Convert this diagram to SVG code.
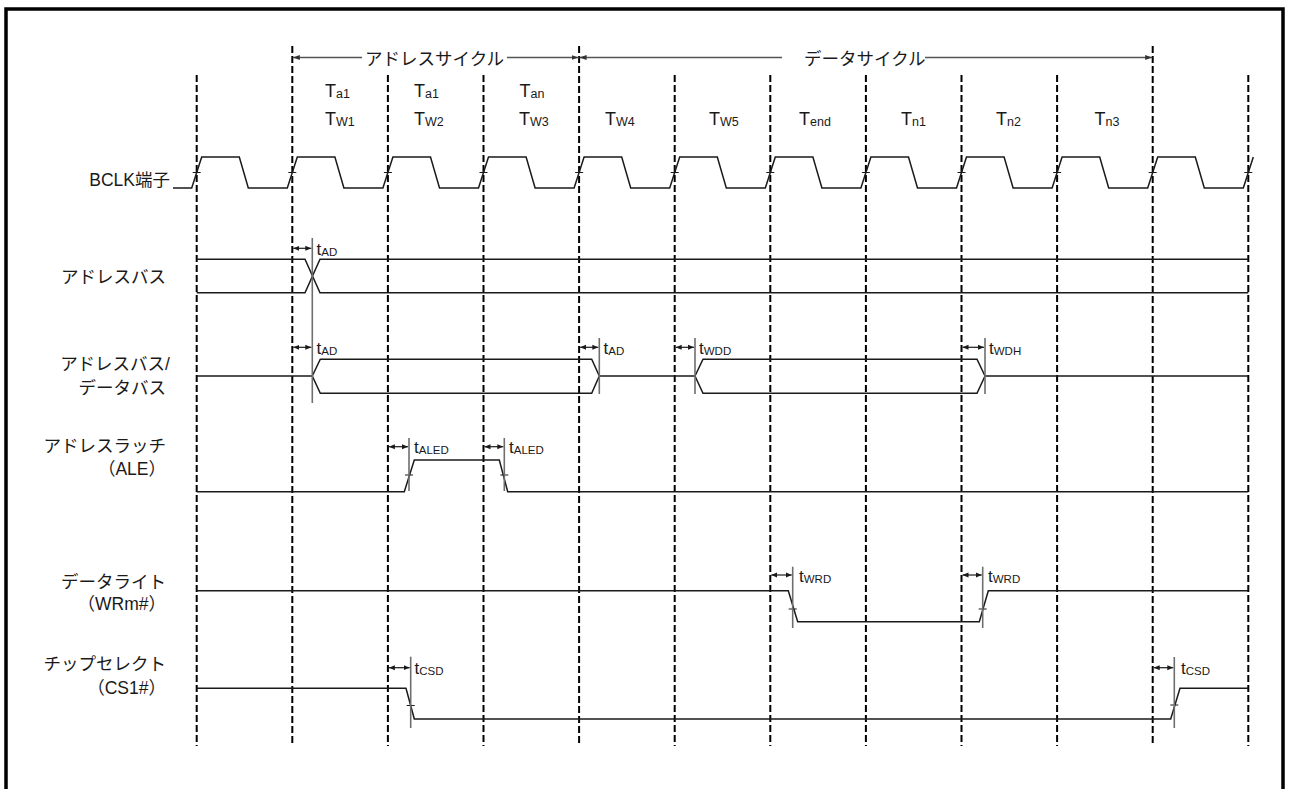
<svg xmlns="http://www.w3.org/2000/svg" width="1289" height="789" viewBox="0 0 1289 789">
<style>
.bg{fill:#fff}
.frame{fill:none;stroke:#000;stroke-width:3.5}
.grid{stroke:#000;stroke-width:2;stroke-dasharray:7,3;fill:none}
.wave{fill:none;stroke:#1a1a1a;stroke-width:1.5;stroke-linejoin:miter}
.ref{stroke:#6e6e6e;stroke-width:1.6;fill:none}
.tick{stroke:#1a1a1a;stroke-width:1.2}
.dim{stroke:#1a1a1a;stroke-width:1.2;fill:none;marker-start:url(#ah);marker-end:url(#ah)}
.cyc{stroke:#555;stroke-width:1.4;fill:none}
.lbl{font-family:'Liberation Sans','Noto Sans CJK JP',sans-serif;font-size:17.5px;fill:#1a1a1a}
.tl{font-family:'Liberation Sans',Arial,sans-serif;font-size:17px;fill:#1a1a1a}
.st{font-family:'Liberation Sans',Arial,sans-serif;font-size:18px;fill:#1a1a1a}
.sub{font-size:11.5px}
.ssub{font-size:12.5px}
</style>
<defs>
<marker id="ah" viewBox="0 0 6 6" refX="6" refY="3" markerWidth="6" markerHeight="6" markerUnits="userSpaceOnUse" orient="auto-start-reverse">
<path d="M0,0.5 L6,3 L0,5.5 z" fill="#1a1a1a"/>
</marker>
<marker id="ch" viewBox="0 0 7 6" refX="7" refY="3" markerWidth="7" markerHeight="6" markerUnits="userSpaceOnUse" orient="auto-start-reverse">
<path d="M0,0.5 L7,3 L0,5.5 z" fill="#333"/>
</marker>
</defs>
<rect class="bg" x="0" y="0" width="1289" height="789"/>
<path class="frame" d="M6,789 V9 H1283 V789"/>

<g id="grid">
<line class="grid" x1="196.7" y1="75" x2="196.7" y2="746"/>
<line class="grid" x1="292.3" y1="46" x2="292.3" y2="746"/>
<line class="grid" x1="387.9" y1="75" x2="387.9" y2="746"/>
<line class="grid" x1="483.5" y1="75" x2="483.5" y2="746"/>
<line class="grid" x1="579.1" y1="46" x2="579.1" y2="746"/>
<line class="grid" x1="674.7" y1="75" x2="674.7" y2="746"/>
<line class="grid" x1="770.3" y1="75" x2="770.3" y2="746"/>
<line class="grid" x1="865.9" y1="75" x2="865.9" y2="746"/>
<line class="grid" x1="961.5" y1="75" x2="961.5" y2="746"/>
<line class="grid" x1="1057.1" y1="75" x2="1057.1" y2="746"/>
<line class="grid" x1="1152.7" y1="46" x2="1152.7" y2="746"/>
<line class="grid" x1="1248.3" y1="75" x2="1248.3" y2="746"/>
</g>

<g id="cycles">
<line class="cyc" x1="362" y1="57.5" x2="292.8" y2="57.5" style="marker-end:url(#ch)"/>
<line class="cyc" x1="507" y1="57.5" x2="578.6" y2="57.5" style="marker-end:url(#ch)"/>
<text class="lbl" x="365" y="65">アドレスサイクル</text>
<line class="cyc" x1="782" y1="57.5" x2="579.6" y2="57.5" style="marker-end:url(#ch)"/>
<line class="cyc" x1="925" y1="57.5" x2="1152.2" y2="57.5" style="marker-end:url(#ch)"/>
<text class="lbl" x="804" y="65">データサイクル</text>
</g>

<g id="states">
<text class="st" x="325" y="97">T<tspan class="ssub" dy="1">a1</tspan></text>
<text class="st" x="414" y="97">T<tspan class="ssub" dy="1">a1</tspan></text>
<text class="st" x="519.5" y="97">T<tspan class="ssub" dy="1">an</tspan></text>
<text class="st" x="325" y="125">T<tspan class="ssub" dy="1">W1</tspan></text>
<text class="st" x="414" y="125">T<tspan class="ssub" dy="1">W2</tspan></text>
<text class="st" x="519" y="125">T<tspan class="ssub" dy="1">W3</tspan></text>
<text class="st" x="605" y="125">T<tspan class="ssub" dy="1">W4</tspan></text>
<text class="st" x="709" y="125">T<tspan class="ssub" dy="1">W5</tspan></text>
<text class="st" x="799" y="125">T<tspan class="ssub" dy="1">end</tspan></text>
<text class="st" x="901" y="125">T<tspan class="ssub" dy="1">n1</tspan></text>
<text class="st" x="996" y="125">T<tspan class="ssub" dy="1">n2</tspan></text>
<text class="st" x="1094.5" y="125">T<tspan class="ssub" dy="1">n3</tspan></text>
</g>

<g id="bclk">
<text class="lbl" x="170" y="186" text-anchor="end">BCLK端子</text>
<path class="wave" d="M173,188 H191.7 L201.7,157 H239.3 L248.3,188 H287.3 L297.3,157 H334.9 L343.9,188 H382.9 L392.9,157 H430.5 L439.5,188 H478.5 L488.5,157 H526.1 L535.1,188 H574.1 L584.1,157 H621.7 L630.7,188 H669.7 L679.7,157 H717.3 L726.3,188 H765.3 L775.3,157 H812.9 L821.9,188 H860.9 L870.9,157 H908.5 L917.5,188 H956.5 L966.5,157 H1004.1 L1013.1,188 H1052.1 L1062.1,157 H1099.7 L1108.7,188 H1147.7 L1157.7,157 H1195.3 L1204.3,188 H1243.3 L1253.3,157"/>
<path class="tick" d="M192.7,172.5 h8 M288.3,172.5 h8 M383.9,172.5 h8 M479.5,172.5 h8 M575.1,172.5 h8 M670.7,172.5 h8 M766.3,172.5 h8 M861.9,172.5 h8 M957.5,172.5 h8 M1053.1,172.5 h8 M1148.7,172.5 h8 M1244.3,172.5 h8"/>
</g>

<g id="address-bus">
<text class="lbl" x="166" y="283" text-anchor="end">アドレスバス</text>
<path class="wave" d="M196.7,259.3 H305 L320,292.7 H1248.3 M196.7,292.7 H305 L320,259.3 H1248.3"/>
</g>

<g id="ad-bus">
<text class="lbl" x="170" y="370" text-anchor="end">アドレスバス/</text>
<text class="lbl" x="166" y="394" text-anchor="end">データバス</text>
<path class="wave" d="M196.7,376 H312.3 M312.3,376 L320.3,359.3 H591.7 L599.3,376 L591.7,393.3 H320.3 Z M599.3,376 H695 M695,376 L703,359.3 H977 L985,376 L977,393.3 H703 Z M985,376 H1248.3"/>
</g>

<g id="ale">
<text class="lbl" x="166" y="452" text-anchor="end">アドレスラッチ</text>
<text class="lbl" x="166" y="475" text-anchor="end">（ALE）</text>
<path class="wave" d="M196.7,491.7 H404.3 L414.3,460 H499.3 L507.7,491.7 H1248.3"/>
<path class="tick" d="M405,475 h8 M500.3,475 h8"/>
</g>

<g id="wrm">
<text class="lbl" x="166" y="588" text-anchor="end">データライト</text>
<text class="lbl" x="166" y="610" text-anchor="end">（WRm#）</text>
<path class="wave" d="M196.7,590.7 H788.3 L797.7,621.7 H979.3 L988.3,590.7 H1248.3"/>
<path class="tick" d="M788.7,609 h8 M978.7,609 h8"/>
</g>

<g id="cs1">
<text class="lbl" x="166" y="670" text-anchor="end">チップセレクト</text>
<text class="lbl" x="166" y="694" text-anchor="end">（CS1#）</text>
<path class="wave" d="M196.7,688.3 H406 L414.3,719 H1170.7 L1180,688.3 H1248.3"/>
<path class="tick" d="M406.7,705.5 h8 M1170.3,705 h8"/>
</g>

<g id="connectors">
<line class="ref" x1="312.3" y1="238" x2="312.3" y2="403"/>
<line class="ref" x1="599.3" y1="338" x2="599.3" y2="394"/>
<line class="ref" x1="695" y1="338" x2="695" y2="394"/>
<line class="ref" x1="985" y1="338" x2="985" y2="394"/>
<line class="ref" x1="409" y1="438" x2="409" y2="491"/>
<line class="ref" x1="504.3" y1="438" x2="504.3" y2="491"/>
<line class="ref" x1="792.7" y1="566.7" x2="792.7" y2="628"/>
<line class="ref" x1="982.7" y1="566.7" x2="982.7" y2="628"/>
<line class="ref" x1="410.7" y1="656.7" x2="410.7" y2="728"/>
<line class="ref" x1="1174.3" y1="657" x2="1174.3" y2="728"/>

<line class="dim" x1="293.3" y1="248.3" x2="311.3" y2="248.3"/>
<line class="dim" x1="293.3" y1="347.3" x2="311.3" y2="347.3"/>
<line class="dim" x1="580.1" y1="347.3" x2="598.3" y2="347.3"/>
<line class="dim" x1="675.7" y1="347.3" x2="694" y2="347.3"/>
<line class="dim" x1="962.5" y1="347.3" x2="984" y2="347.3"/>
<line class="dim" x1="388.9" y1="446.7" x2="408" y2="446.7"/>
<line class="dim" x1="484.5" y1="446.7" x2="503.3" y2="446.7"/>
<line class="dim" x1="771.3" y1="575" x2="791.7" y2="575"/>
<line class="dim" x1="962.5" y1="575" x2="981.7" y2="575"/>
<line class="dim" x1="388.9" y1="667.7" x2="409.7" y2="667.7"/>
<line class="dim" x1="1153.7" y1="667.7" x2="1173.3" y2="667.7"/>

<text class="tl" x="316.5" y="255">t<tspan class="sub" dy="1">AD</tspan></text>
<text class="tl" x="316.5" y="354">t<tspan class="sub" dy="1">AD</tspan></text>
<text class="tl" x="603.5" y="354">t<tspan class="sub" dy="1">AD</tspan></text>
<text class="tl" x="699" y="354">t<tspan class="sub" dy="1">WDD</tspan></text>
<text class="tl" x="989" y="354">t<tspan class="sub" dy="1">WDH</tspan></text>
<text class="tl" x="414" y="453">t<tspan class="sub" dy="1">ALED</tspan></text>
<text class="tl" x="509" y="453">t<tspan class="sub" dy="1">ALED</tspan></text>
<text class="tl" x="799" y="582">t<tspan class="sub" dy="1">WRD</tspan></text>
<text class="tl" x="988" y="582">t<tspan class="sub" dy="1">WRD</tspan></text>
<text class="tl" x="414.5" y="674">t<tspan class="sub" dy="1">CSD</tspan></text>
<text class="tl" x="1181" y="674">t<tspan class="sub" dy="1">CSD</tspan></text>
</g>
</svg>
